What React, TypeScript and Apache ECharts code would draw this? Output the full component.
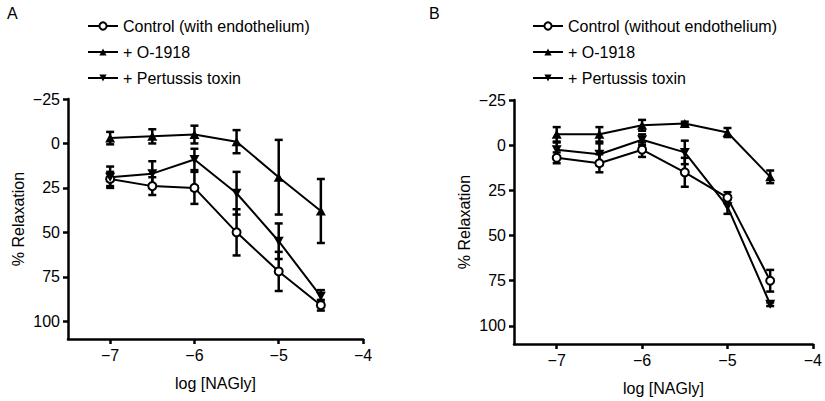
import React, { useEffect, useRef } from "react";
import * as echarts from "echarts";

const logConc = [-7, -6.5, -6, -5.5, -5, -4.5];

// Panel A (with endothelium)
const ctrlA = [20, 24, 25, 50, 72, 91];
const ctrlAErr = [4, 5, 9, 13, 11, 3];
const o1918A = [-3, -4, -5, -1, 19, 38];
const o1918AErr = [3.5, 4, 5, 6.5, 21, 18];
const ptxA = [19, 17, 9, 28, 55, 86];
const ptxAErr = [6, 7, 6, 12, 10, 3.5];

// Panel B (without endothelium)
const ctrlB = [7, 10, 2.5, 15, 29, 75];
const ctrlBErr = [3, 5, 4, 8, 3, 6];
const o1918B = [-6, -6, -11, -12, -7, 17.5];
const o1918BErr = [4, 4, 3, 1, 2.5, 3.5];
const ptxB = [2.5, 5, -3, 4, 34, 88];
const ptxBErr = [4, 6, 3, 6.5, 4, 1];

const yTicks = [-25, 0, 25, 50, 75, 100];
const xTicks = [-7, -6, -5, -4];

const nameCtrlA = "Control (with endothelium)";
const nameCtrlB = "Control (without endothelium)";
const nameO = "+ O-1918";
const namePtx = "+ Pertussis toxin";

const FONT = "Liberation Sans, Arial, Helvetica, sans-serif";
const DOWN_TRI = "path://M0,0L10,0L5,9Z";

const fmt = (v: number) => (v < 0 ? "\u2212" + Math.abs(v) : String(v));

function pairs(ys: number[]) {
  return logConc.map((x, i) => [x, ys[i]]);
}
function errData(ys: number[], es: number[]) {
  return logConc.map((x, i) => [x, ys[i] - es[i], ys[i] + es[i]]);
}

const errRender = (params: any, api: any) => {
  const x = api.value(0);
  const p1 = api.coord([x, api.value(1)]);
  const p2 = api.coord([x, api.value(2)]);
  const cap = 4;
  const st = { stroke: "#000", lineWidth: 2.5 };
  return {
    type: "group",
    children: [
      { type: "line", shape: { x1: p1[0], y1: p1[1], x2: p2[0], y2: p2[1] }, style: st },
      { type: "line", shape: { x1: p1[0] - cap, y1: p1[1], x2: p1[0] + cap, y2: p1[1] }, style: st },
      { type: "line", shape: { x1: p2[0] - cap, y1: p2[1], x2: p2[0] + cap, y2: p2[1] }, style: st },
    ],
  };
};

function lineSeries(name: string, ys: number[], idx: number, kind: string) {
  let symbol = "circle";
  let symbolSize: any = 8;
  let itemStyle: any = { color: "#000" };
  if (kind === "circle") {
    itemStyle = { color: "#fff", borderColor: "#000", borderWidth: 2 };
  } else if (kind === "up") {
    symbol = "triangle";
    symbolSize = [10, 9];
  } else {
    symbol = DOWN_TRI;
    symbolSize = [10, 9];
  }
  return {
    type: "line",
    name,
    xAxisIndex: idx,
    yAxisIndex: idx,
    data: pairs(ys),
    symbol,
    symbolSize,
    showAllSymbol: true,
    lineStyle: { color: "#000", width: 2 },
    itemStyle,
    z: 3,
  };
}

function errSeries(ys: number[], es: number[], idx: number) {
  return {
    type: "custom",
    xAxisIndex: idx,
    yAxisIndex: idx,
    data: errData(ys, es),
    renderItem: errRender,
    encode: { x: 0, y: [1, 2] },
    z: 2,
    silent: true,
  };
}

function xAxis(idx: number) {
  return {
    type: "value",
    gridIndex: idx,
    min: -7.5,
    max: -4,
    name: "log [NAGly]",
    nameLocation: "middle",
    nameGap: 36,
    nameTextStyle: { color: "#000", fontSize: 16, fontFamily: FONT },
    axisLine: { onZero: false, lineStyle: { color: "#000", width: 2.5 } },
    axisTick: { show: true, length: 5, lineStyle: { color: "#000", width: 2.5 }, customValues: xTicks },
    axisLabel: { color: "#000", fontSize: 16, fontFamily: FONT, margin: 8, formatter: fmt, customValues: xTicks },
    splitLine: { show: false },
  };
}

function yAxis(idx: number) {
  return {
    type: "value",
    gridIndex: idx,
    inverse: true,
    min: -25,
    max: 110,
    interval: 25,
    name: "% Relaxation",
    nameLocation: "middle",
    nameGap: 42,
    nameTextStyle: { color: "#000", fontSize: 16, fontFamily: FONT },
    axisLine: { onZero: false, lineStyle: { color: "#000", width: 2.5 } },
    axisTick: { show: true, length: 5, lineStyle: { color: "#000", width: 2.5 }, customValues: yTicks },
    axisLabel: { color: "#000", fontSize: 16, fontFamily: FONT, margin: 8, formatter: fmt, customValues: yTicks },
    splitLine: { show: false },
  };
}

function legend(left: number, names: string[]) {
  return {
    left,
    top: 13,
    orient: "vertical",
    data: names,
    itemWidth: 30,
    itemHeight: 9,
    itemGap: 10,
    selectedMode: false,
    textStyle: { color: "#000", fontSize: 16, fontFamily: FONT },
  };
}

export default function App() {
  const ref = useRef<HTMLDivElement>(null);
  useEffect(() => {
    if (!ref.current) return;
    const chart = echarts.init(ref.current, null, { renderer: "svg" });
    chart.setOption({
      animation: false,
      backgroundColor: "#fff",
      textStyle: { fontFamily: FONT },
      grid: [
        { left: 68, top: 99, right: 462, bottom: 62 },
        { left: 514, top: 100, right: 9, bottom: 57 },
      ],
      xAxis: [xAxis(0), xAxis(1)],
      yAxis: [yAxis(0), yAxis(1)],
      legend: [
        legend(82, [nameCtrlA, nameO, namePtx]),
        legend(527, [nameCtrlB, nameO, namePtx]),
      ],
      graphic: [
        { type: "text", left: 7, top: 5, style: { text: "A", fontSize: 16, fontFamily: FONT, fill: "#000" } },
        { type: "text", left: 429, top: 5, style: { text: "B", fontSize: 16, fontFamily: FONT, fill: "#000" } },
      ],
      series: [
        errSeries(ctrlA, ctrlAErr, 0),
        errSeries(o1918A, o1918AErr, 0),
        errSeries(ptxA, ptxAErr, 0),
        errSeries(ctrlB, ctrlBErr, 1),
        errSeries(o1918B, o1918BErr, 1),
        errSeries(ptxB, ptxBErr, 1),
        lineSeries(nameCtrlA, ctrlA, 0, "circle"),
        lineSeries(nameO, o1918A, 0, "up"),
        lineSeries(namePtx, ptxA, 0, "down"),
        lineSeries(nameCtrlB, ctrlB, 1, "circle"),
        lineSeries(nameO, o1918B, 1, "up"),
        lineSeries(namePtx, ptxB, 1, "down"),
      ],
    });
    return () => chart.dispose();
  }, []);
  return (
    <div
      ref={ref}
      style={{ position: "fixed", left: 0, top: 0, width: 825, height: 401, background: "#fff" }}
    />
  );
}
